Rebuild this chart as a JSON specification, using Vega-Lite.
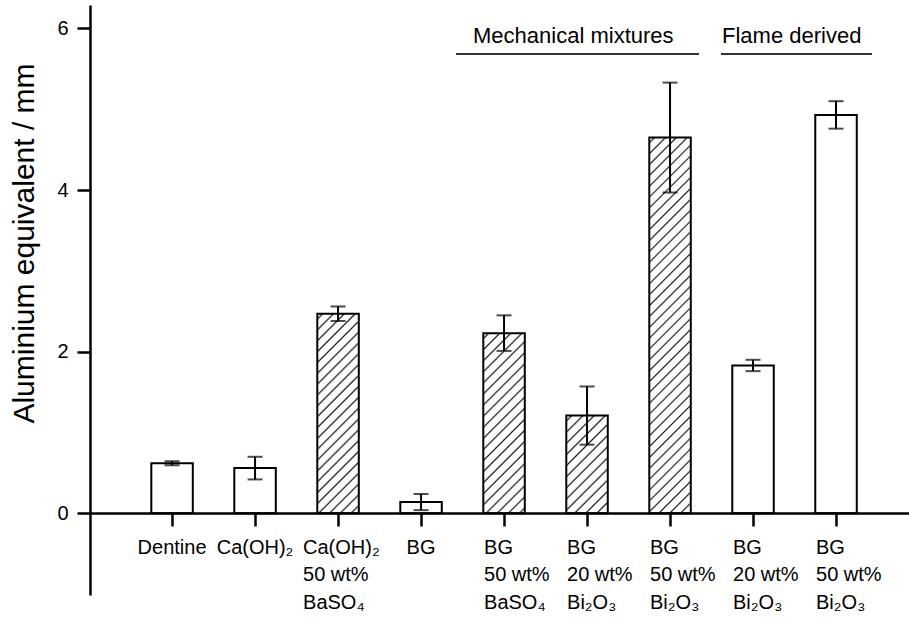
{
"$schema": "https://vega.github.io/schema/vega-lite/v6.json",
"width": 819, "height": 590,
"autosize": {"type": "none"},
"padding": {"left": 90, "top": 5, "right": 0, "bottom": 26},
"background": "white",
"config": {"view": {"stroke": null}, "font": "Liberation Sans"},
"data": {"values": [
{"sample": "Dentine", "mean": 0.62, "sd": 0.025},
{"sample": "Ca(OH)₂", "mean": 0.56, "sd": 0.14},
{"sample": "Ca(OH)₂ + 50 wt% BaSO₄", "mean": 2.47, "sd": 0.09},
{"sample": "BG", "mean": 0.14, "sd": 0.1},
{"sample": "BG + 50 wt% BaSO₄", "mean": 2.23, "sd": 0.22, "group": "Mechanical mixtures"},
{"sample": "BG + 20 wt% Bi₂O₃ (mechanical mixture)", "mean": 1.21, "sd": 0.36, "group": "Mechanical mixtures"},
{"sample": "BG + 50 wt% Bi₂O₃ (mechanical mixture)", "mean": 4.65, "sd": 0.68, "group": "Mechanical mixtures"},
{"sample": "BG + 20 wt% Bi₂O₃ (flame derived)", "mean": 1.83, "sd": 0.07, "group": "Flame derived"},
{"sample": "BG + 50 wt% Bi₂O₃ (flame derived)", "mean": 4.93, "sd": 0.17, "group": "Flame derived"}
]},
"encoding": {
"x": {"field": "sample", "type": "nominal", "sort": null,
 "scale": {"paddingInner": 0.5, "paddingOuter": 0.684, "align": 0.54},
 "axis": {"orient": "bottom", "offset": -82, "title": null, "tickSize": 13, "tickWidth": 2.5, "domainWidth": 2.5, "domainColor": "black", "tickColor": "black", "labelFontSize": 20, "labelColor": "black", "labelAngle": 0, "labelPadding": 11, "labelBaseline": "top", "labelLineHeight": 27.5, "labelLimit": 0, "labelOverlap": false, "zindex": 1,
  "labelExpr": "indexof(datum.value, ' + ') < 0 ? datum.value : [split(datum.value, ' + ')[0], split(split(split(datum.value, ' (')[0], ' + ')[1], '% ')[0] + '%', split(split(split(datum.value, ' (')[0], ' + ')[1], '% ')[1]]",
  "labelAlign": {"condition": {"test": "indexof(datum.value, ' + ') >= 0", "value": "left"}, "value": "center"},
  "labelOffset": {"condition": [{"test": "indexof(datum.value, 'Ca(OH)₂ + ') == 0", "value": -35}, {"test": "indexof(datum.value, ' + ') >= 0", "value": -20}], "value": 0}}},
"y": {"field": "mean", "type": "quantitative", "title": "Aluminium equivalent / mm",
 "scale": {"domain": [-1.01, 6.29], "nice": false, "zero": false},
 "axis": {"values": [0, 2, 4, 6], "grid": false, "tickSize": 13, "tickWidth": 2.5, "domainWidth": 2.5, "domainColor": "black", "tickColor": "black", "labelFontSize": 20, "labelPadding": 9, "labelColor": "black", "labelFlush": false, "titleFontSize": 30, "titleFontWeight": "normal", "titleColor": "black", "titleX": -57, "titleY": 238, "titleBaseline": "alphabetic", "titleAlign": "center"}}
},
"layer": [
{"mark": {"type": "bar", "stroke": "black", "strokeWidth": 2},
 "encoding": {
 "y2": {"datum": 0},
 "fill": {"condition": [
 {"test": "datum.sample == 'Ca(OH)₂ + 50 wt% BaSO₄'", "value": {"gradient": "linear", "x1": 0, "y1": 0, "x2": 0.2407, "y2": 1.15786, "stops": [
{"offset":0,"color":"#fff"},
{"offset":0.015,"color":"#fff"},{"offset":0.0225,"color":"#222"},{"offset":0.03,"color":"#fff"},
{"offset":0.06,"color":"#fff"},{"offset":0.0675,"color":"#222"},{"offset":0.075,"color":"#fff"},
{"offset":0.105,"color":"#fff"},{"offset":0.1125,"color":"#222"},{"offset":0.12,"color":"#fff"},
{"offset":0.15,"color":"#fff"},{"offset":0.1575,"color":"#222"},{"offset":0.165,"color":"#fff"},
{"offset":0.195,"color":"#fff"},{"offset":0.2025,"color":"#222"},{"offset":0.21,"color":"#fff"},
{"offset":0.24,"color":"#fff"},{"offset":0.2475,"color":"#222"},{"offset":0.255,"color":"#fff"},
{"offset":0.285,"color":"#fff"},{"offset":0.2925,"color":"#222"},{"offset":0.3,"color":"#fff"},
{"offset":0.33,"color":"#fff"},{"offset":0.3375,"color":"#222"},{"offset":0.345,"color":"#fff"},
{"offset":0.375,"color":"#fff"},{"offset":0.3825,"color":"#222"},{"offset":0.39,"color":"#fff"},
{"offset":0.42,"color":"#fff"},{"offset":0.4275,"color":"#222"},{"offset":0.435,"color":"#fff"},
{"offset":0.465,"color":"#fff"},{"offset":0.4725,"color":"#222"},{"offset":0.48,"color":"#fff"},
{"offset":0.51,"color":"#fff"},{"offset":0.5175,"color":"#222"},{"offset":0.525,"color":"#fff"},
{"offset":0.555,"color":"#fff"},{"offset":0.5625,"color":"#222"},{"offset":0.57,"color":"#fff"},
{"offset":0.6,"color":"#fff"},{"offset":0.6075,"color":"#222"},{"offset":0.615,"color":"#fff"},
{"offset":0.645,"color":"#fff"},{"offset":0.6525,"color":"#222"},{"offset":0.66,"color":"#fff"},
{"offset":0.69,"color":"#fff"},{"offset":0.6975,"color":"#222"},{"offset":0.705,"color":"#fff"},
{"offset":0.735,"color":"#fff"},{"offset":0.7425,"color":"#222"},{"offset":0.75,"color":"#fff"},
{"offset":0.78,"color":"#fff"},{"offset":0.7875,"color":"#222"},{"offset":0.795,"color":"#fff"},
{"offset":0.825,"color":"#fff"},{"offset":0.8325,"color":"#222"},{"offset":0.84,"color":"#fff"},
{"offset":0.87,"color":"#fff"},{"offset":0.8775,"color":"#222"},{"offset":0.885,"color":"#fff"},
{"offset":0.915,"color":"#fff"},{"offset":0.9225,"color":"#222"},{"offset":0.93,"color":"#fff"},
{"offset":0.96,"color":"#fff"},{"offset":0.9675,"color":"#222"},{"offset":0.975,"color":"#fff"},
{"offset":1,"color":"#fff"}]}},
 {"test": "datum.sample == 'BG + 50 wt% BaSO₄'", "value": {"gradient": "linear", "x1": 0, "y1": 0, "x2": 0.26902, "y2": 1.16832, "stops": [
{"offset":0,"color":"#fff"},
{"offset":0.017,"color":"#fff"},{"offset":0.025,"color":"#222"},{"offset":0.033,"color":"#fff"},
{"offset":0.067,"color":"#fff"},{"offset":0.075,"color":"#222"},{"offset":0.083,"color":"#fff"},
{"offset":0.117,"color":"#fff"},{"offset":0.125,"color":"#222"},{"offset":0.133,"color":"#fff"},
{"offset":0.167,"color":"#fff"},{"offset":0.175,"color":"#222"},{"offset":0.183,"color":"#fff"},
{"offset":0.217,"color":"#fff"},{"offset":0.225,"color":"#222"},{"offset":0.233,"color":"#fff"},
{"offset":0.267,"color":"#fff"},{"offset":0.275,"color":"#222"},{"offset":0.283,"color":"#fff"},
{"offset":0.317,"color":"#fff"},{"offset":0.325,"color":"#222"},{"offset":0.333,"color":"#fff"},
{"offset":0.367,"color":"#fff"},{"offset":0.375,"color":"#222"},{"offset":0.383,"color":"#fff"},
{"offset":0.417,"color":"#fff"},{"offset":0.425,"color":"#222"},{"offset":0.433,"color":"#fff"},
{"offset":0.467,"color":"#fff"},{"offset":0.475,"color":"#222"},{"offset":0.483,"color":"#fff"},
{"offset":0.517,"color":"#fff"},{"offset":0.525,"color":"#222"},{"offset":0.533,"color":"#fff"},
{"offset":0.567,"color":"#fff"},{"offset":0.575,"color":"#222"},{"offset":0.583,"color":"#fff"},
{"offset":0.617,"color":"#fff"},{"offset":0.625,"color":"#222"},{"offset":0.633,"color":"#fff"},
{"offset":0.667,"color":"#fff"},{"offset":0.675,"color":"#222"},{"offset":0.683,"color":"#fff"},
{"offset":0.717,"color":"#fff"},{"offset":0.725,"color":"#222"},{"offset":0.733,"color":"#fff"},
{"offset":0.767,"color":"#fff"},{"offset":0.775,"color":"#222"},{"offset":0.783,"color":"#fff"},
{"offset":0.817,"color":"#fff"},{"offset":0.825,"color":"#222"},{"offset":0.833,"color":"#fff"},
{"offset":0.867,"color":"#fff"},{"offset":0.875,"color":"#222"},{"offset":0.883,"color":"#fff"},
{"offset":0.917,"color":"#fff"},{"offset":0.925,"color":"#222"},{"offset":0.933,"color":"#fff"},
{"offset":0.967,"color":"#fff"},{"offset":0.975,"color":"#222"},{"offset":0.983,"color":"#fff"},
{"offset":1,"color":"#fff"}]}},
 {"test": "datum.sample == 'BG + 20 wt% Bi₂O₃ (mechanical mixture)'", "value": {"gradient": "linear", "x1": 0, "y1": 0, "x2": 0.51223, "y2": 1.20703, "stops": [
{"offset":0,"color":"#fff"},
{"offset":0.027,"color":"#fff"},{"offset":0.04,"color":"#222"},{"offset":0.053,"color":"#fff"},
{"offset":0.107,"color":"#fff"},{"offset":0.12,"color":"#222"},{"offset":0.133,"color":"#fff"},
{"offset":0.187,"color":"#fff"},{"offset":0.2,"color":"#222"},{"offset":0.213,"color":"#fff"},
{"offset":0.267,"color":"#fff"},{"offset":0.28,"color":"#222"},{"offset":0.293,"color":"#fff"},
{"offset":0.347,"color":"#fff"},{"offset":0.36,"color":"#222"},{"offset":0.373,"color":"#fff"},
{"offset":0.427,"color":"#fff"},{"offset":0.44,"color":"#222"},{"offset":0.453,"color":"#fff"},
{"offset":0.507,"color":"#fff"},{"offset":0.52,"color":"#222"},{"offset":0.533,"color":"#fff"},
{"offset":0.587,"color":"#fff"},{"offset":0.6,"color":"#222"},{"offset":0.613,"color":"#fff"},
{"offset":0.667,"color":"#fff"},{"offset":0.68,"color":"#222"},{"offset":0.693,"color":"#fff"},
{"offset":0.747,"color":"#fff"},{"offset":0.76,"color":"#222"},{"offset":0.773,"color":"#fff"},
{"offset":0.827,"color":"#fff"},{"offset":0.84,"color":"#222"},{"offset":0.853,"color":"#fff"},
{"offset":0.907,"color":"#fff"},{"offset":0.92,"color":"#222"},{"offset":0.933,"color":"#fff"},
{"offset":1,"color":"#fff"}]}},
 {"test": "datum.sample == 'BG + 50 wt% Bi₂O₃ (mechanical mixture)'", "value": {"gradient": "linear", "x1": 0, "y1": 0, "x2": 0.12114, "y2": 1.09703, "stops": [
{"offset":0,"color":"#fff"},
{"offset":0.009,"color":"#fff"},{"offset":0.013,"color":"#222"},{"offset":0.017,"color":"#fff"},
{"offset":0.035,"color":"#fff"},{"offset":0.039,"color":"#222"},{"offset":0.043,"color":"#fff"},
{"offset":0.061,"color":"#fff"},{"offset":0.065,"color":"#222"},{"offset":0.069,"color":"#fff"},
{"offset":0.087,"color":"#fff"},{"offset":0.091,"color":"#222"},{"offset":0.095,"color":"#fff"},
{"offset":0.113,"color":"#fff"},{"offset":0.117,"color":"#222"},{"offset":0.121,"color":"#fff"},
{"offset":0.139,"color":"#fff"},{"offset":0.143,"color":"#222"},{"offset":0.147,"color":"#fff"},
{"offset":0.165,"color":"#fff"},{"offset":0.169,"color":"#222"},{"offset":0.173,"color":"#fff"},
{"offset":0.191,"color":"#fff"},{"offset":0.195,"color":"#222"},{"offset":0.199,"color":"#fff"},
{"offset":0.217,"color":"#fff"},{"offset":0.221,"color":"#222"},{"offset":0.225,"color":"#fff"},
{"offset":0.243,"color":"#fff"},{"offset":0.247,"color":"#222"},{"offset":0.251,"color":"#fff"},
{"offset":0.269,"color":"#fff"},{"offset":0.273,"color":"#222"},{"offset":0.277,"color":"#fff"},
{"offset":0.295,"color":"#fff"},{"offset":0.299,"color":"#222"},{"offset":0.303,"color":"#fff"},
{"offset":0.321,"color":"#fff"},{"offset":0.325,"color":"#222"},{"offset":0.329,"color":"#fff"},
{"offset":0.347,"color":"#fff"},{"offset":0.351,"color":"#222"},{"offset":0.355,"color":"#fff"},
{"offset":0.373,"color":"#fff"},{"offset":0.377,"color":"#222"},{"offset":0.381,"color":"#fff"},
{"offset":0.399,"color":"#fff"},{"offset":0.403,"color":"#222"},{"offset":0.407,"color":"#fff"},
{"offset":0.425,"color":"#fff"},{"offset":0.429,"color":"#222"},{"offset":0.433,"color":"#fff"},
{"offset":0.451,"color":"#fff"},{"offset":0.455,"color":"#222"},{"offset":0.459,"color":"#fff"},
{"offset":0.477,"color":"#fff"},{"offset":0.481,"color":"#222"},{"offset":0.485,"color":"#fff"},
{"offset":0.503,"color":"#fff"},{"offset":0.507,"color":"#222"},{"offset":0.511,"color":"#fff"},
{"offset":0.529,"color":"#fff"},{"offset":0.533,"color":"#222"},{"offset":0.537,"color":"#fff"},
{"offset":0.555,"color":"#fff"},{"offset":0.559,"color":"#222"},{"offset":0.563,"color":"#fff"},
{"offset":0.581,"color":"#fff"},{"offset":0.585,"color":"#222"},{"offset":0.589,"color":"#fff"},
{"offset":0.607,"color":"#fff"},{"offset":0.611,"color":"#222"},{"offset":0.615,"color":"#fff"},
{"offset":0.633,"color":"#fff"},{"offset":0.637,"color":"#222"},{"offset":0.641,"color":"#fff"},
{"offset":0.659,"color":"#fff"},{"offset":0.663,"color":"#222"},{"offset":0.667,"color":"#fff"},
{"offset":0.685,"color":"#fff"},{"offset":0.689,"color":"#222"},{"offset":0.693,"color":"#fff"},
{"offset":0.711,"color":"#fff"},{"offset":0.715,"color":"#222"},{"offset":0.719,"color":"#fff"},
{"offset":0.737,"color":"#fff"},{"offset":0.741,"color":"#222"},{"offset":0.745,"color":"#fff"},
{"offset":0.763,"color":"#fff"},{"offset":0.767,"color":"#222"},{"offset":0.771,"color":"#fff"},
{"offset":0.789,"color":"#fff"},{"offset":0.793,"color":"#222"},{"offset":0.797,"color":"#fff"},
{"offset":0.815,"color":"#fff"},{"offset":0.819,"color":"#222"},{"offset":0.823,"color":"#fff"},
{"offset":0.841,"color":"#fff"},{"offset":0.845,"color":"#222"},{"offset":0.849,"color":"#fff"},
{"offset":0.867,"color":"#fff"},{"offset":0.871,"color":"#222"},{"offset":0.875,"color":"#fff"},
{"offset":0.893,"color":"#fff"},{"offset":0.897,"color":"#222"},{"offset":0.901,"color":"#fff"},
{"offset":0.919,"color":"#fff"},{"offset":0.923,"color":"#222"},{"offset":0.927,"color":"#fff"},
{"offset":0.945,"color":"#fff"},{"offset":0.949,"color":"#222"},{"offset":0.953,"color":"#fff"},
{"offset":0.971,"color":"#fff"},{"offset":0.975,"color":"#222"},{"offset":0.979,"color":"#fff"},
{"offset":1,"color":"#fff"}]}}
 ], "value": "white"}
 }},
{"mark": {"type": "errorbar", "color": "black", "thickness": 2, "ticks": {"size": 15, "thickness": 2, "color": "black"}, "rule": {"strokeWidth": 2, "color": "black"}},
 "encoding": {"yError": {"field": "sd"}}},
{"transform": [{"filter": "datum.sample == 'BG + 50 wt% BaSO₄'"}],
 "mark": {"type": "rule", "strokeWidth": 2, "color": "#333", "xOffset": -48, "x2Offset": 29},
 "encoding": {"x2": {"datum": "BG + 50 wt% Bi₂O₃ (mechanical mixture)"}, "y": {"datum": 5.684, "type": "quantitative"}}},
{"transform": [{"filter": "datum.sample == 'BG + 20 wt% Bi₂O₃ (flame derived)'"}],
 "mark": {"type": "rule", "strokeWidth": 2, "color": "#333", "xOffset": -32, "x2Offset": 36},
 "encoding": {"x2": {"datum": "BG + 50 wt% Bi₂O₃ (flame derived)"}, "y": {"datum": 5.684, "type": "quantitative"}}},
{"transform": [{"filter": "datum.sample == 'BG + 50 wt% BaSO₄' || datum.sample == 'BG + 20 wt% Bi₂O₃ (flame derived)'"}],
 "mark": {"type": "text", "align": "left", "dx": -31, "baseline": "alphabetic", "fontSize": 22, "color": "black"},
 "encoding": {"y": {"datum": 5.82, "type": "quantitative"}, "text": {"field": "group"}}}
]
}
